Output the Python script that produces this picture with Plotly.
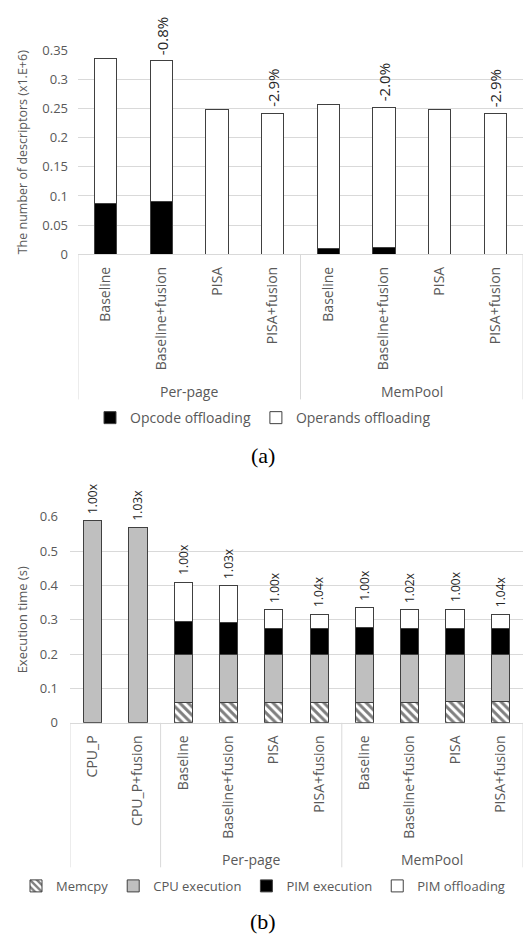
import plotly.graph_objects as go

# ---------------- data: chart (a) ----------------
a_categories = ["Baseline", "Baseline+fusion", "PISA", "PISA+fusion",
                "Baseline", "Baseline+fusion", "PISA", "PISA+fusion"]
a_groups = ["Per-page", "MemPool"]
a_opcode = [0.087, 0.091, 0.0, 0.0, 0.009, 0.012, 0.0, 0.0]
a_operands = [0.248, 0.241, 0.249, 0.242, 0.248, 0.240, 0.249, 0.242]
a_labels = ["", "-0.8%", "", "-2.9%", "", "-2.0%", "", "-2.9%"]
a_yticks = [0, 0.05, 0.1, 0.15, 0.2, 0.25, 0.3, 0.35]
a_yticktext = ["0", "0.05", "0.1", "0.15", "0.2", "0.25", "0.3", "0.35"]

# ---------------- data: chart (b) ----------------
b_categories = ["CPU_P", "CPU_P+fusion", "Baseline", "Baseline+fusion", "PISA", "PISA+fusion",
                "Baseline", "Baseline+fusion", "PISA", "PISA+fusion"]
b_groups = ["Per-page", "MemPool"]
b_memcpy = [0.0, 0.0, 0.060, 0.059, 0.060, 0.060, 0.060, 0.060, 0.063, 0.063]
b_cpu = [0.588, 0.570, 0.140, 0.141, 0.140, 0.140, 0.140, 0.140, 0.137, 0.137]
b_pim_exec = [0.0, 0.0, 0.094, 0.091, 0.074, 0.074, 0.077, 0.075, 0.075, 0.075]
b_pim_off = [0.0, 0.0, 0.116, 0.108, 0.056, 0.042, 0.058, 0.054, 0.055, 0.041]
b_labels = ["1.00x", "1.03x", "1.00x", "1.03x", "1.00x", "1.04x", "1.00x", "1.02x", "1.00x", "1.04x"]
b_yticks = [0, 0.1, 0.2, 0.3, 0.4, 0.5, 0.6]
b_yticktext = ["0", "0.1", "0.2", "0.3", "0.4", "0.5", "0.6"]

W, H = 526, 944
FONT = "Open Sans"
GRAY_TXT = "#595959"
GRID = "#D9D9D9"
OUTLINE = "#404040"


def py(p):
    return 1 - p / H


def px(p):
    return p / W


a_x = list(range(len(a_categories)))
b_x = list(range(len(b_categories)))

fig = go.Figure()

# chart (a)
fig.add_trace(go.Bar(x=a_x, y=a_opcode, name="Opcode offloading",
                     marker=dict(color="black", line=dict(color=OUTLINE, width=1)),
                     xaxis="x", yaxis="y", legend="legend"))
fig.add_trace(go.Bar(x=a_x, y=a_operands, name="Operands offloading",
                     marker=dict(color="white", line=dict(color=OUTLINE, width=1)),
                     xaxis="x", yaxis="y", legend="legend"))

# chart (b)
fig.add_trace(go.Bar(x=b_x, y=b_memcpy, name="Memcpy",
                     marker=dict(color="white", line=dict(color=OUTLINE, width=1),
                                 pattern=dict(shape="\\", fgcolor="black", bgcolor="white",
                                              size=6, solidity=0.5)),
                     xaxis="x2", yaxis="y2", legend="legend2"))
fig.add_trace(go.Bar(x=b_x, y=b_cpu, name="CPU execution",
                     marker=dict(color="#BFBFBF", line=dict(color=OUTLINE, width=1)),
                     xaxis="x2", yaxis="y2", legend="legend2"))
fig.add_trace(go.Bar(x=b_x, y=b_pim_exec, name="PIM execution",
                     marker=dict(color="black", line=dict(color=OUTLINE, width=1)),
                     xaxis="x2", yaxis="y2", legend="legend2"))
fig.add_trace(go.Bar(x=b_x, y=b_pim_off, name="PIM offloading",
                     marker=dict(color="white", line=dict(color=OUTLINE, width=1)),
                     xaxis="x2", yaxis="y2", legend="legend2"))

annotations = []
# value labels above bars
for i, lab in enumerate(a_labels):
    if lab:
        annotations.append(dict(x=a_x[i], y=a_opcode[i] + a_operands[i], xref="x", yref="y",
                                text=lab, textangle=-90, showarrow=False, yanchor="bottom",
                                yshift=4, font=dict(family=FONT, size=15, color="#262626")))
for i, lab in enumerate(b_labels):
    tot = b_memcpy[i] + b_cpu[i] + b_pim_exec[i] + b_pim_off[i]
    annotations.append(dict(x=b_x[i], y=tot, xref="x2", yref="y2",
                            text=lab, textangle=-90, showarrow=False, yanchor="bottom",
                            yshift=5, font=dict(family=FONT, size=12, color="#262626")))

# group labels
grp_font = dict(family=FONT, size=14, color=GRAY_TXT)
annotations.append(dict(x=1.5, y=py(390), xref="x", yref="paper", text=a_groups[0],
                        showarrow=False, yanchor="middle", font=grp_font))
annotations.append(dict(x=5.5, y=py(390), xref="x", yref="paper", text=a_groups[1],
                        showarrow=False, yanchor="middle", font=grp_font))
annotations.append(dict(x=3.5, y=py(867), xref="x2", yref="paper", text=b_groups[0],
                        showarrow=False, yanchor="middle", font=grp_font))
annotations.append(dict(x=7.5, y=py(867), xref="x2", yref="paper", text=b_groups[1],
                        showarrow=False, yanchor="middle", font=grp_font))

# panel captions
cap_font = dict(family="Liberation Serif", size=22, color="black")
annotations.append(dict(x=0.5, y=py(455), xref="paper", yref="paper", text="(a)",
                        showarrow=False, yanchor="middle", font=cap_font))
annotations.append(dict(x=0.5, y=py(930), xref="paper", yref="paper", text="(b)",
                        showarrow=False, yanchor="middle", font=cap_font))

shapes = []
for xv in [-0.5, 3.5, 7.5]:
    shapes.append(dict(type="line", xref="x", yref="paper", x0=xv, x1=xv,
                       y0=py(250), y1=py(398), line=dict(color=GRID, width=1)))
for xv in [-0.5, 1.5, 5.5, 9.5]:
    shapes.append(dict(type="line", xref="x2", yref="paper", x0=xv, x1=xv,
                       y0=py(727.7), y1=py(875), line=dict(color=GRID, width=1)))

ytick_font = dict(family=FONT, size=13, color=GRAY_TXT)
xtick_font = dict(family=FONT, size=14, color=GRAY_TXT)

fig.update_layout(
    width=W, height=H,
    margin=dict(l=0, r=0, t=0, b=0),
    paper_bgcolor="white", plot_bgcolor="white",
    barmode="stack", bargap=0.6,
    font=dict(family=FONT, color=GRAY_TXT),
    showlegend=True,
    xaxis=dict(domain=[px(78), px(523)], anchor="y", range=[-0.5, 7.5],
               tickvals=a_x, ticktext=a_categories, tickangle=-90, tickfont=xtick_font,
               showgrid=False, showline=True, linecolor=GRID, linewidth=1,
               ticks="", ticklabelstandoff=6, zeroline=False, fixedrange=True),
    yaxis=dict(domain=[py(250), py(42)], anchor="x", range=[0, 0.35],
               tickvals=a_yticks, ticktext=a_yticktext, tickfont=ytick_font,
               showgrid=True, gridcolor=GRID, gridwidth=1, zeroline=False, showline=False,
               ticks="", ticklabelstandoff=9, fixedrange=True,
               title=dict(text="The number of descriptors (x1.E+6)",
                          font=dict(family=FONT, size=12.5, color=GRAY_TXT), standoff=11)),
    xaxis2=dict(domain=[px(70), px(523)], anchor="y2", range=[-0.5, 9.5],
                tickvals=b_x, ticktext=b_categories, tickangle=-90, tickfont=xtick_font,
                showgrid=False, showline=True, linecolor=GRID, linewidth=1,
                ticks="", ticklabelstandoff=6, zeroline=False, fixedrange=True),
    yaxis2=dict(domain=[py(727.7), py(517.7)], anchor="x2", range=[0, 0.6],
                tickvals=b_yticks, ticktext=b_yticktext, tickfont=ytick_font,
                showgrid=True, gridcolor=GRID, gridwidth=1, zeroline=False, showline=False,
                ticks="", ticklabelstandoff=11, fixedrange=True,
                title=dict(text="Execution time (s)",
                           font=dict(family=FONT, size=13, color=GRAY_TXT), standoff=9)),
    legend=dict(orientation="h", x=0.5, xanchor="center", y=py(417), yanchor="middle",
                traceorder="normal",
                font=dict(family=FONT, size=14, color=GRAY_TXT), bgcolor="rgba(0,0,0,0)",
                itemwidth=30, itemclick=False, itemdoubleclick=False),
    legend2=dict(orientation="h", x=0.5, xanchor="center", y=py(894), yanchor="middle",
                 traceorder="normal",
                 font=dict(family=FONT, size=13, color=GRAY_TXT), bgcolor="rgba(0,0,0,0)",
                 itemwidth=30, itemclick=False, itemdoubleclick=False),
    annotations=annotations,
    shapes=shapes,
)

fig.write_html("out.html",
               config={"displayModeBar": False},
               post_script="document.body.style.margin='0';document.body.style.overflow='hidden';")
